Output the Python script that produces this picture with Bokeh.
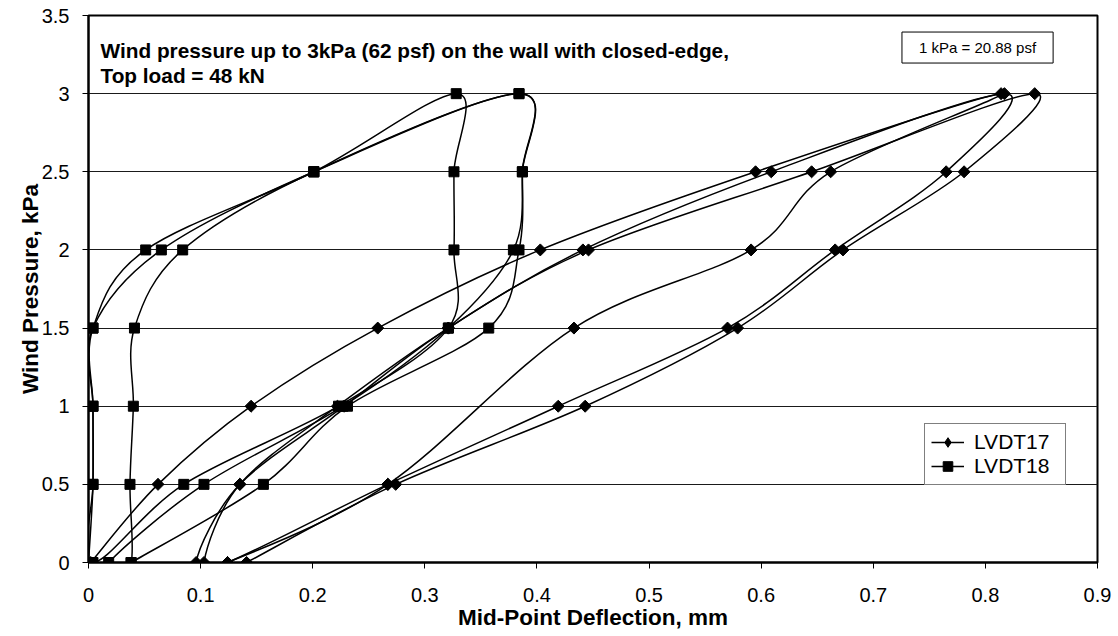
import numpy as np
from bokeh.plotting import figure
from bokeh.models import Range1d, FixedTicker, Label, Legend, LegendItem, NumeralTickFormatter
from bokeh.embed import file_html
from bokeh.resources import INLINE

# ---------------- data ----------------
# LVDT17: three load/unload cycles, in recorded order
lvdt17_x = [0.002, 0.062, 0.145, 0.258, 0.403, 0.595, 0.814,
            0.662, 0.591, 0.433, 0.267, 0.124,
            0.103, 0.135, 0.222, 0.321, 0.441, 0.609, 0.817,
            0.765, 0.666, 0.570, 0.419, 0.267, 0.124,
            0.096, 0.135, 0.228, 0.321, 0.446, 0.645, 0.844,
            0.781, 0.673, 0.579, 0.443, 0.274, 0.141]
lvdt17_y = [0, 0.5, 1, 1.5, 2, 2.5, 3,
            2.5, 2, 1.5, 0.5, 0,
            0, 0.5, 1, 1.5, 2, 2.5, 3,
            2.5, 2, 1.5, 1, 0.5, 0,
            0, 0.5, 1, 1.5, 2, 2.5, 3,
            2.5, 2, 1.5, 1, 0.5, 0]

# LVDT18: three load/unload cycles, in recorded order
lvdt18_x = [0.000, 0.004, 0.004, 0.004, 0.051, 0.201, 0.328,
            0.326, 0.326, 0.321, 0.223, 0.085, 0.004,
            0.004, 0.004, 0.004, 0.065, 0.201, 0.384,
            0.387, 0.379, 0.321, 0.227, 0.103, 0.018,
            0.038, 0.037, 0.040, 0.041, 0.084, 0.201, 0.384,
            0.387, 0.384, 0.357, 0.231, 0.156, 0.038]
lvdt18_y = [0, 0.5, 1, 1.5, 2, 2.5, 3,
            2.5, 2, 1.5, 1, 0.5, 0,
            0.5, 1, 1.5, 2, 2.5, 3,
            2.5, 2, 1.5, 1, 0.5, 0,
            0, 0.5, 1, 1.5, 2, 2.5, 3,
            2.5, 2, 1.5, 1, 0.5, 0]

series_names = ["LVDT17", "LVDT18"]
x_ticks = [0, 0.1, 0.2, 0.3, 0.4, 0.5, 0.6, 0.7, 0.8, 0.9]
y_ticks = [0, 0.5, 1, 1.5, 2, 2.5, 3, 3.5]

title_line1 = "Wind pressure up to 3kPa (62 psf) on the wall with closed-edge,"
title_line2 = "Top load = 48 kN"
conversion_note = "1 kPa = 20.88 psf"
x_title = "Mid-Point Deflection, mm"
y_title = "Wind Pressure, kPa"

FONT = "Liberation Sans"


def smooth_segments(xs, ys, t=1.0 / 6.0):
    """Cubic Bezier control points through the points (Excel-like smoothed line)."""
    x = np.asarray(xs, dtype=float)
    y = np.asarray(ys, dtype=float)
    n = len(x)
    xe = np.concatenate([[x[0]], x, [x[-1]]])
    ye = np.concatenate([[y[0]], y, [y[-1]]])
    i = np.arange(n - 1)
    x0, y0 = x[i], y[i]
    x1, y1 = x[i + 1], y[i + 1]
    cx0 = x0 + (xe[i + 2] - xe[i]) * t
    cy0 = y0 + (ye[i + 2] - ye[i]) * t
    cx1 = x1 - (xe[i + 3] - xe[i + 1]) * t
    cy1 = y1 - (ye[i + 3] - ye[i + 1]) * t
    return dict(x0=x0, y0=y0, x1=x1, y1=y1, cx0=cx0, cy0=cy0, cx1=cx1, cy1=cy1)


p = figure(frame_width=1009, frame_height=547,
           x_range=Range1d(0, 0.9), y_range=Range1d(0, 3.5),
           output_backend="svg", toolbar_location=None,
           min_border_left=88, min_border_top=15, min_border_right=21, min_border_bottom=74)

p.background_fill_color = "white"
p.border_fill_color = "white"
p.outline_line_color = "black"
p.outline_line_width = 2

p.xgrid.visible = False
p.ygrid.ticker = FixedTicker(ticks=y_ticks)
p.ygrid.grid_line_color = "#1a1a1a"
p.ygrid.grid_line_width = 1

for ax in (p.xaxis, p.yaxis):
    ax.axis_line_color = "black"
    ax.axis_line_width = 2
    ax.major_tick_in = 0
    ax.major_tick_out = 6
    ax.major_tick_line_color = "black"
    ax.minor_tick_line_color = None
    ax.major_label_text_font = FONT
    ax.major_label_text_font_size = "20px"
    ax.major_label_text_color = "black"
    ax.axis_label_text_font = FONT
    ax.axis_label_text_font_style = "bold"
    ax.axis_label_text_font_size = "22.5px"
    ax.axis_label_text_color = "black"
    ax.formatter = NumeralTickFormatter(format="0.[0]")

p.xaxis.ticker = FixedTicker(ticks=x_ticks)
p.yaxis.ticker = FixedTicker(ticks=y_ticks)
p.xaxis.axis_label = x_title
p.yaxis.axis_label = y_title
p.xaxis.major_label_standoff = 19
p.yaxis.major_label_standoff = 13
p.xaxis.axis_label_standoff = 0
p.yaxis.axis_label_standoff = -4

# ---------------- series ----------------
renderers = {}
for name, xs, ys, size, angle, leg_marker, leg_size in [
        ("LVDT17", lvdt17_x, lvdt17_y, 8.5, np.pi / 4, "diamond", 15),
        ("LVDT18", lvdt18_x, lvdt18_y, 10, 0.0, "square", 10)]:
    seg = smooth_segments(xs, ys)
    p.bezier(line_color="black", line_width=1.5, source=seg, **{k: k for k in seg})
    p.scatter(x=xs, y=ys, marker="square", size=size, angle=angle,
              fill_color="black", line_color="black")
    leg_line = p.line(x=[np.nan], y=[np.nan], line_color="black", line_width=1.5)
    leg_mark = p.scatter(x=[np.nan], y=[np.nan], marker=leg_marker, size=leg_size,
                         fill_color="black", line_color="black")
    renderers[name] = [leg_line, leg_mark]

legend = Legend(items=[LegendItem(label=n, renderers=renderers[n]) for n in series_names],
                location=(836, 77))
legend.label_text_font = FONT
legend.label_text_font_size = "21px"
legend.label_text_color = "black"
legend.glyph_width = 33
legend.glyph_height = 24
legend.label_height = 24
legend.label_width = 85
legend.label_standoff = 10
legend.spacing = 0
legend.padding = 6
legend.margin = 0
legend.border_line_color = "black"
legend.border_line_width = 1
legend.background_fill_color = "white"
legend.background_fill_alpha = 1
p.add_layout(legend)

# ---------------- annotations ----------------
for txt, yy in [(title_line1, 3.276), (title_line2, 3.116)]:
    p.add_layout(Label(x=0.0107, y=yy, text=txt, text_font=FONT, text_font_size="20.8px",
                       text_font_style="bold", text_color="black",
                       text_baseline="middle", text_align="left"))

p.add_layout(Label(x=0.793, y=3.295, text=conversion_note, text_font=FONT,
                   text_font_size="15px", text_color="black",
                   text_baseline="middle", text_align="center",
                   border_line_color="black", border_line_width=1,
                   background_fill_color="white", padding=(17, 7)))

open("out.html", "w").write(file_html(p, INLINE))
